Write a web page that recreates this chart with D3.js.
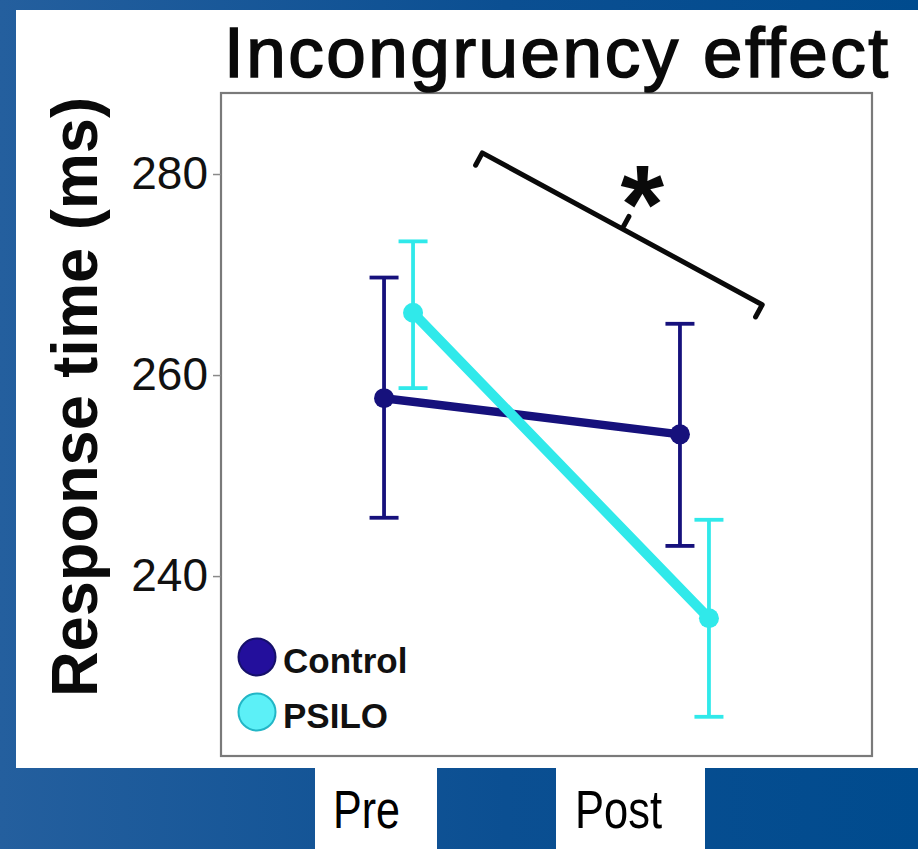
<!DOCTYPE html>
<html>
<head>
<meta charset="utf-8">
<script src="https://cdn.jsdelivr.net/npm/d3@7/dist/d3.min.js"></script>
<style>
  html, body { margin: 0; padding: 0; background: #1a5696; }
  svg { display: block; }
</style>
</head>
<body>
<svg id="chart" width="918" height="849"></svg>
<script>
// ---------------- data ----------------
const categories = ["Pre", "Post"];
const groups = ["Control", "PSILO"];
const controlMean  = [257.7, 254.1];
const controlUpper = [269.7, 265.1];
const controlLower = [245.8, 243.0];
const psiloMean  = [266.2, 235.8];
const psiloUpper = [273.3, 245.6];
const psiloLower = [258.7, 226.0];
const yTicks = [240, 260, 280];
const titleText = "Incongruency effect";
const yLabelText = "Response time (ms)";

// ---------------- layout ----------------
const W = 918, H = 849;
const plot = { left: 221, right: 872, top: 93, bottom: 756 };
const colors = {
  Control: { line: "#16117c", fill: "#230f9c", stroke: "#15106a" },
  PSILO:   { line: "#30e9ea", fill: "#5cf0f7", stroke: "#22b6c6" }
};
const dodge = { Control: -14.5, PSILO: 14.5 };

const svg = d3.select("#chart");

// background gradient
const defs = svg.append("defs");
const grad = defs.append("linearGradient").attr("id", "bg").attr("x1", "0").attr("x2", "1").attr("y1", "0").attr("y2", "0");
grad.append("stop").attr("offset", "0%").attr("stop-color", "#245f9e");
grad.append("stop").attr("offset", "55%").attr("stop-color", "#0b4f92");
grad.append("stop").attr("offset", "100%").attr("stop-color", "#004b8e");
svg.append("rect").attr("width", W).attr("height", H).attr("fill", "url(#bg)");

// white panel
svg.append("rect").attr("x", 16).attr("y", 10).attr("width", W - 16).attr("height", 758).attr("fill", "#ffffff");

// label boxes at bottom
const labelBoxes = [{ x: 315, w: 122 }, { x: 556, w: 149 }];
svg.selectAll("rect.lbox").data(labelBoxes).enter().append("rect")
  .attr("class", "lbox")
  .attr("x", d => d.x).attr("y", 768).attr("width", d => d.w).attr("height", H - 768)
  .attr("fill", "#ffffff");

// scales
const x = d3.scalePoint().domain(categories).range([plot.left, plot.right]).padding(0.6);
const y = d3.scaleLinear().domain([222.1, 288.06]).range([plot.bottom, plot.top]);

// frame
svg.append("rect")
  .attr("x", plot.left).attr("y", plot.top)
  .attr("width", plot.right - plot.left).attr("height", plot.bottom - plot.top)
  .attr("fill", "none").attr("stroke", "#7a7a7a").attr("stroke-width", 2.2);

// y axis
const yAxis = svg.append("g").attr("transform", `translate(${plot.left},0)`)
  .call(d3.axisLeft(y).tickValues(yTicks).tickSize(8).tickPadding(5).tickFormat(d3.format("d")));
yAxis.select(".domain").remove();
yAxis.selectAll(".tick line").attr("stroke", "#8a8a8a").attr("stroke-width", 1.5);
yAxis.selectAll(".tick text")
  .attr("font-family", "'Liberation Sans', Arial, sans-serif")
  .attr("font-size", 46).attr("fill", "#111");

// title
svg.append("text")
  .attr("x", 224).attr("y", 77)
  .attr("font-family", "'Liberation Sans Narrow', 'Arial Narrow', 'Liberation Sans', Arial, sans-serif")
  .attr("font-size", 71).attr("fill", "#0a0a0a")
  .attr("stroke", "#0a0a0a").attr("stroke-width", 1.6)
  .attr("textLength", 664).attr("lengthAdjust", "spacing")
  .text(titleText);

// y label
svg.append("text")
  .attr("transform", "translate(97,397) rotate(-90)")
  .attr("text-anchor", "middle")
  .attr("font-family", "'Liberation Sans', Arial, sans-serif")
  .attr("font-weight", "bold")
  .attr("font-size", 64).attr("fill", "#0a0a0a")
  .attr("textLength", 600).attr("lengthAdjust", "spacingAndGlyphs")
  .text(yLabelText);

// data table
const series = [
  { group: "Control", mean: controlMean, upper: controlUpper, lower: controlLower },
  { group: "PSILO",   mean: psiloMean,   upper: psiloUpper,   lower: psiloLower }
].map(s => ({
  group: s.group,
  pts: categories.map((c, i) => ({ cat: c, mean: s.mean[i], upper: s.upper[i], lower: s.lower[i] }))
}));

const px = (g, c) => x(c) + dodge[g];

// error bars
const capHalf = 14.5;
series.forEach(s => {
  const g = svg.append("g");
  const col = colors[s.group].line;
  s.pts.forEach(p => {
    const cx = px(s.group, p.cat);
    g.append("line").attr("x1", cx).attr("x2", cx).attr("y1", y(p.upper)).attr("y2", y(p.lower))
      .attr("stroke", col).attr("stroke-width", 3.8);
    [p.upper, p.lower].forEach(v => {
      g.append("line").attr("x1", cx - capHalf).attr("x2", cx + capHalf).attr("y1", y(v)).attr("y2", y(v))
        .attr("stroke", col).attr("stroke-width", 3.8);
    });
  });
});

// lines and points
const lineGen = d3.line().x(d => d.x).y(d => d.y);
series.forEach(s => {
  const pts = s.pts.map(p => ({ x: px(s.group, p.cat), y: y(p.mean) }));
  svg.append("path").attr("d", lineGen(pts)).attr("fill", "none")
    .attr("stroke", colors[s.group].line)
    .attr("stroke-width", s.group === "PSILO" ? 10 : 8.5)
    .attr("stroke-linecap", "round");
  svg.selectAll(null).data(pts).enter().append("circle")
    .attr("cx", d => d.x).attr("cy", d => d.y)
    .attr("r", 10)
    .attr("fill", colors[s.group].line);
});

// significance bracket (data coordinates)
const xi = d3.scaleLinear().domain([0, 1]).range([x("Pre"), x("Post")]);
const bracket = { x0: 0.283, y0: 282.1, x1: 1.229, y1: 267.0 };
const A = [xi(bracket.x0), y(bracket.y0)], B = [xi(bracket.x1), y(bracket.y1)];
const dx = B[0] - A[0], dy = B[1] - A[1], len = Math.hypot(dx, dy);
const nx = -dy / len, ny = dx / len; // perpendicular pointing down-left
const hook = 14;
const M = [(A[0] + B[0]) / 2, (A[1] + B[1]) / 2];
const bp = d3.path();
bp.moveTo(A[0] + nx * hook, A[1] + ny * hook);
bp.lineTo(A[0], A[1]);
bp.lineTo(B[0], B[1]);
bp.lineTo(B[0] + nx * hook, B[1] + ny * hook);
bp.moveTo(M[0], M[1]);
bp.lineTo(M[0] - nx * hook, M[1] - ny * hook);
svg.append("path").attr("d", bp.toString()).attr("fill", "none")
  .attr("stroke", "#0a0a0a").attr("stroke-width", 5).attr("stroke-linejoin", "round").attr("stroke-linecap", "round");
svg.append("text")
  .attr("x", M[0] + 20).attr("y", M[1] + 14)
  .attr("text-anchor", "middle")
  .attr("font-family", "'Liberation Sans', Arial, sans-serif")
  .attr("font-weight", "bold")
  .attr("font-size", 112).attr("fill", "#0a0a0a")
  .text("*");

// legend
const legend = svg.append("g");
const legendY = [657, 712];
groups.forEach((g, i) => {
  legend.append("circle").attr("cx", 257).attr("cy", legendY[i]).attr("r", 18.5)
    .attr("fill", colors[g].fill).attr("stroke", colors[g].stroke).attr("stroke-width", 2);
  legend.append("text").attr("x", 283).attr("y", legendY[i] + 16)
    .attr("font-family", "'Liberation Sans', Arial, sans-serif")
    .attr("font-weight", "bold").attr("font-size", 35).attr("fill", "#111")
    .text(g);
});

// x category labels (in the white boxes)
const xLabelPos = d3.scalePoint().domain(categories).range([366.5, 618.5]);
svg.selectAll("text.xlab").data(categories).enter().append("text")
  .attr("class", "xlab")
  .attr("x", d => xLabelPos(d)).attr("y", 828)
  .attr("text-anchor", "middle")
  .attr("font-family", "'Liberation Sans Narrow', 'Arial Narrow', 'Liberation Sans', Arial, sans-serif")
  .attr("font-size", 53).attr("fill", "#000")
  .attr("textLength", d => d === "Pre" ? 67 : 87).attr("lengthAdjust", "spacingAndGlyphs")
  .text(d => d);
</script>
</body>
</html>
